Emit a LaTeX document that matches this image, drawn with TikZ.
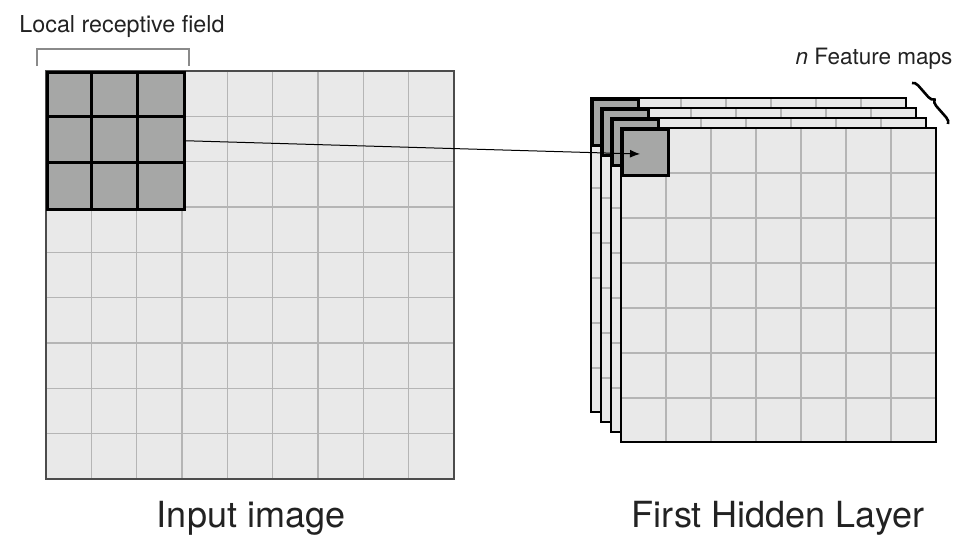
\documentclass[tikz,border=0pt]{standalone}
\usepackage{fontspec}
\setmainfont{TeX Gyre Heros}
\usetikzlibrary{positioning, arrows.meta, decorations.pathreplacing}
\definecolor{cellgray}{HTML}{E9E9E9}
\definecolor{linegray}{HTML}{B5B5B5}
\definecolor{darkcell}{HTML}{A6A7A6}
\definecolor{bracketgray}{HTML}{8A8A8A}
\definecolor{textgray}{HTML}{222222}

\begin{document}
\begin{tikzpicture}[x=1pt, y=-1pt,
  gridline/.style={linegray, line width=1.2pt},
  field/.style={draw=black, line width=2.5pt, fill=darkcell, inner sep=0pt, anchor=north west},
  small/.style={font=\fontsize{22.5}{26}\selectfont, text=textgray, anchor=base},
  big/.style={font=\fontsize{36}{42}\selectfont, text=textgray, anchor=base}]
\useasboundingbox (0,0) rectangle (968,543);

% Input image
\fill[cellgray] (46,71) rectangle (454,479);
\foreach \k in {1,...,8} {
  \draw[gridline] (46+\k*45.33,71) -- (46+\k*45.33,479);
  \draw[gridline] (46,71+\k*45.33) -- (454,71+\k*45.33);
}
\draw[black!70, line width=1.2pt] (46,71) rectangle (454,479);
\node[field, minimum size=137pt] (rf) at (46,71) {};
\foreach \k in {1,2} {
  \draw[line width=2.5pt] (46+\k*45.67,71) -- (46+\k*45.67,208);
  \draw[line width=2.5pt] (46,71+\k*45.67) -- (183,71+\k*45.67);
}
\draw[bracketgray, line width=2pt] (37,66) -- (37,49) -- (189,49) -- (189,66);
\node[small, font=\fontsize{23.3}{27}\selectfont] (lrf) at (122,33) {Local receptive field};

% Feature maps
\foreach \i in {0,...,3} {
  \pgfmathsetmacro{\x}{591+10*\i}
  \pgfmathsetmacro{\y}{98+10*\i}
  \fill[cellgray] (\x,\y) rectangle (\x+315,\y+314);
  \foreach \k in {1,...,6} {
    \draw[gridline] (\x+\k*45,\y) -- (\x+\k*45,\y+314);
    \draw[gridline] (\x,\y+\k*45) -- (\x+315,\y+\k*45);
  }
  \draw[black, line width=1.3pt] (\x,\y) rectangle (\x+315,\y+314);
  \node[field, minimum size=46pt] (fm\i) at (\x,\y) {};
}
\coordinate (tip) at (640,154);
\draw[-{Latex[length=10pt,width=8pt]}, line width=1pt] (rf.east) -- (tip);

\coordinate (bt) at (912,83);
\coordinate (bb) at (948,124);
\draw[decorate, decoration={brace, amplitude=6pt}, line width=2.6pt] (bt) -- (bb);
\node[small] (nfm) at (874,64) {\textit{n} Feature maps};

% Labels
\node[big] (inp) at (251,527) {Input image};
\node[big] (fhl) at (778,527) {First Hidden Layer};
\end{tikzpicture}
\end{document}
